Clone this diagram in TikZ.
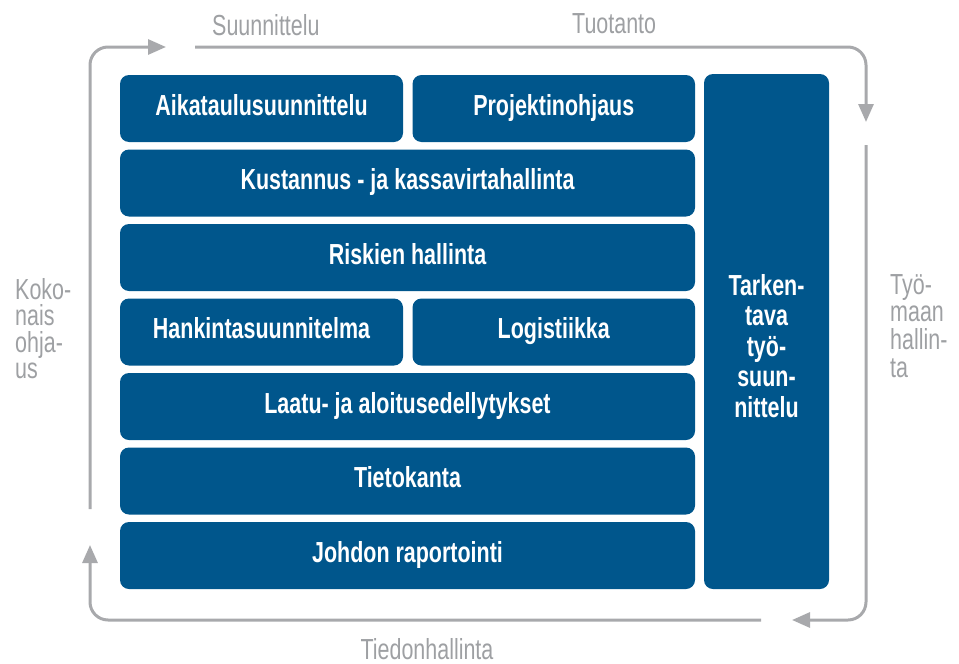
\documentclass[tikz,border=0pt]{standalone}
\usepackage{fontspec}
\setmainfont{Liberation Sans}[FakeStretch=0.74]
\usetikzlibrary{arrows.meta}
\definecolor{panelblue}{RGB}{0,86,140}
\definecolor{flowgray}{RGB}{168,169,172}
\definecolor{labelgray}{RGB}{158,160,163}

\begin{document}
\begin{tikzpicture}[x=1pt,y=-1pt,
  panel/.style={fill=panelblue, rounded corners=9pt, text=white,
    font=\fontsize{29}{30}\selectfont\bfseries, inner sep=0pt,
    text height=20.8pt, text depth=7pt, align=center},
  halfpanel/.style={panel, minimum width=283pt, minimum height=67pt},
  fullpanel/.style={panel, minimum width=575pt, minimum height=67pt},
  sidelabel/.style={text=labelgray, inner sep=0pt, align=left},
  flowlabel/.style={text=labelgray, font=\fontsize{29}{30}\selectfont, inner sep=0pt},
  flow/.style={draw=flowgray, line width=3pt, rounded corners=18pt,
    -{Triangle[length=18pt,width=15pt]}}
]
\useasboundingbox (0,0) rectangle (959,664);

% planning blocks
\node[halfpanel] (aika) at (261.5,108.5) {Aikataulusuunnittelu};
\node[halfpanel, minimum width=282.5pt] (proj) at (553.75,108.5) {Projektinohjaus};
\node[fullpanel] (kust) at (407.5,183) {Kustannus - ja kassavirtahallinta};
\node[fullpanel] (risk) at (407.5,257.5) {Riskien hallinta};
\node[halfpanel] (hank) at (261.5,332) {Hankintasuunnitelma};
\node[halfpanel, minimum width=282.5pt] (logi) at (553.75,332) {Logistiikka};
\node[fullpanel] (laatu) at (407.5,406.5) {Laatu- ja aloitusedellytykset};
\node[fullpanel] (tieto) at (407.5,481) {Tietokanta};
\node[fullpanel] (johd) at (407.5,555.5) {Johdon raportointi};
\node[panel, minimum width=125pt, minimum height=515pt, text height=, text depth=] (tark) at (766.5,331.5) {};
\node[panel, font=\fontsize{29}{30.5}\selectfont\bfseries, text height=, text depth=,
  anchor=north] (tarktxt) at (766.5,274) {Tarken-\\tava\\työ-\\suun-\\nittelu};

% cycle around the blocks
\coordinate (a0) at (90,509);
\coordinate (a1) at (166,47);
\coordinate (b0) at (195,47);
\coordinate (b1) at (866,122);
\coordinate (c0) at (866,145);
\coordinate (c1) at (792,620);
\coordinate (d0) at (761,620);
\coordinate (d1) at (90,545);
\draw[flow] (a0) |- (a1);
\draw[flow] (b0) -| (b1);
\draw[flow] (c0) |- (c1);
\draw[flow] (d0) -| (d1);

% cycle labels
\node[flowlabel, anchor=base west] (suun) at (212,35) {Suunnittelu};
\node[flowlabel, anchor=base west] (tuot) at (572,33) {Tuotanto};
\node[flowlabel, text depth=0pt, anchor=base] (tied) at (427,659) {Tiedonhallinta};
\node[sidelabel, font=\fontsize{29}{26.5}\selectfont, anchor=north west] (koko) at (15,278) {Koko-\\nais\\ohja-\\us};
\node[sidelabel, font=\fontsize{29}{27.7}\selectfont, anchor=north west] (tyom) at (890,274) {Työ-\\maan\\hallin-\\ta};
\end{tikzpicture}
\end{document}
